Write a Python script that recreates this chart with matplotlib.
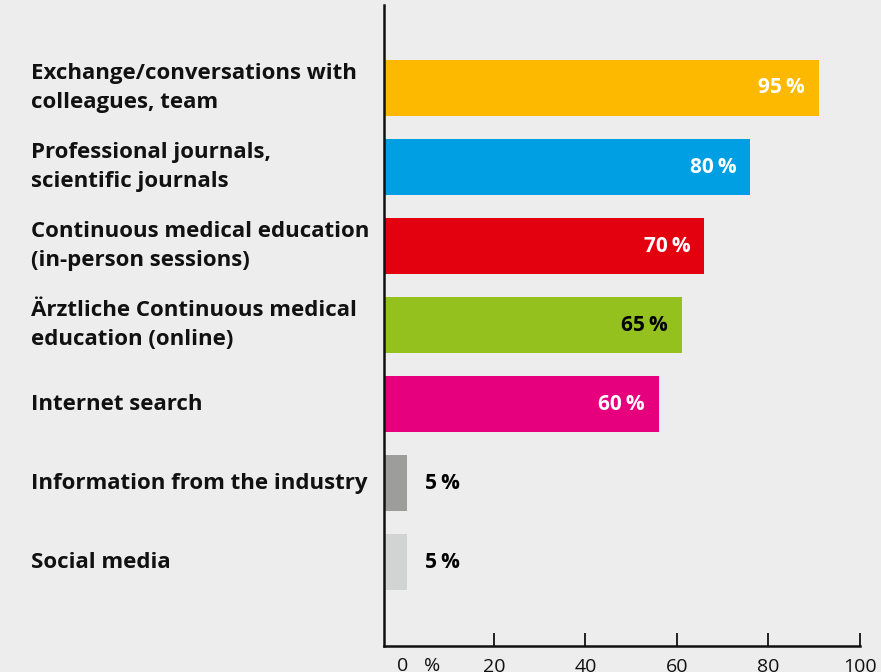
import matplotlib
matplotlib.use("Agg")
import matplotlib.pyplot as plt
import matplotlib.transforms as mtransforms

categories = [
    "Exchange/conversations with\ncolleagues, team",
    "Professional journals,\nscientific journals",
    "Continuous medical education\n(in-person sessions)",
    "Ärztliche Continuous medical\neducation (online)",
    "Internet search",
    "Information from the industry",
    "Social media",
]
values = [95, 80, 70, 65, 60, 5, 5]
colors = ["#FDB900", "#009FE3", "#E3000F", "#95C11F", "#E6007E", "#9D9D9C", "#D2D3D3"]
label_colors = ["white", "white", "white", "black", "white", "black", "black"]
tick_values = [20, 40, 60, 80, 100]
tick_offset = 4  # tick labels sit slightly right of the bar origin in the original

BG = "#EDEDED"
plt.rcParams["font.family"] = ["Open Sans", "DejaVu Sans"]

fig = plt.figure(figsize=(8.81, 6.72), dpi=100, facecolor=BG)
ax = fig.add_axes([384 / 881, 26 / 672, 476 / 881, 641 / 672], facecolor=BG)

ypos = list(range(len(categories)))
ax.barh(ypos, values, height=0.71, color=colors, left=0)

for y, v, c in zip(ypos, values, label_colors):
    if v > 20:
        ax.text(v - 3.0, y, f"{v}\u2009%", ha="right", va="center",
                color=c, fontsize=15, fontweight="bold")
    else:
        ax.text(v + 4.0, y, f"{v}\u2009%", ha="left", va="center",
                color=c, fontsize=15, fontweight="bold")

lab_trans = mtransforms.blended_transform_factory(fig.transFigure, ax.transData)
for y, lab in zip(ypos, categories):
    fig.text(31 / 881, y, lab, ha="left", va="center", fontsize=16,
             fontweight="bold", color="#111111", linespacing=1.52,
             transform=lab_trans)

ax.set_xlim(0, 104)
ax.set_ylim(len(categories) - 1 + 1.06, -1.05)

ax.set_xticks([t + tick_offset for t in tick_values])
ax.set_xticklabels([str(t) for t in tick_values])
ax.set_yticks([])
ax.tick_params(axis="x", direction="in", length=9.5, width=1.3, pad=9,
               labelsize=14, colors="#111111")

trans = mtransforms.blended_transform_factory(ax.transData, ax.transAxes)
ax.text(tick_offset, -0.017, "0", transform=trans, ha="center", va="top",
        fontsize=14, color="#111111")
ax.text(tick_offset + 6.5, -0.017, "%", transform=trans, ha="center", va="top",
        fontsize=14, color="#111111")

for s in ["top", "right"]:
    ax.spines[s].set_visible(False)
for s in ["left", "bottom"]:
    ax.spines[s].set_linewidth(1.8)
    ax.spines[s].set_color("#111111")

fig.savefig("out.png", dpi=100, facecolor=BG)
